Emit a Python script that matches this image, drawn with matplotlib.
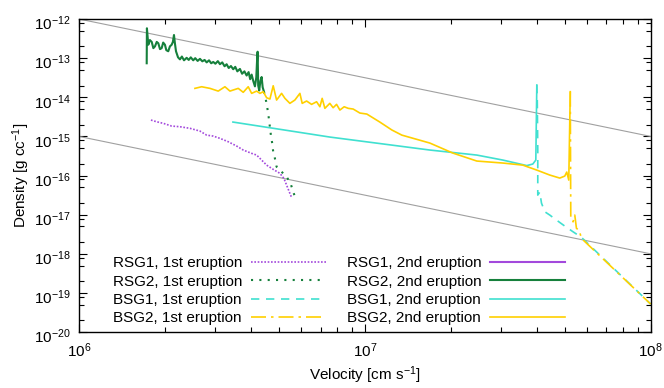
import matplotlib.pyplot as plt
import matplotlib.transforms as mtransforms
from matplotlib.ticker import LogLocator, NullFormatter

plt.rcParams['font.family'] = ['Liberation Sans', 'DejaVu Sans']
plt.rcParams['mathtext.fontset'] = 'custom'
plt.rcParams['mathtext.rm'] = 'Liberation Sans'
plt.rcParams['mathtext.it'] = 'Liberation Sans:italic'

# rho ~ v^-1.5 guide lines
guide_v = [1e6, 1e8]
guide_hi = [1e-12, 1e-15]
guide_lo = [1e-15, 1e-18]

# RSG1
rsg1_v1 = [1.785e6, 1.869e6, 1.971e6, 2.109e6, 2.255e6, 2.444e6, 2.649e6, 2.796e6,
           2.948e6, 3.112e6, 3.327e6, 3.559e6, 3.754e6, 4.017e6, 4.182e6, 4.353e6,
           4.532e6, 4.779e6, 5.044e6, 5.209e6, 5.323e6, 5.466e6, 5.54e6]
rsg1_d1 = [2.62e-15, 2.37e-15, 2.16e-15, 1.84e-15, 1.77e-15, 1.61e-15, 1.37e-15, 1.08e-15,
           1.02e-15, 8.93e-16, 7.31e-16, 5.68e-16, 4.49e-16, 3.69e-16, 3.34e-16, 2.49e-16,
           1.85e-16, 1.44e-16, 1.14e-16, 8.48e-17, 5.71e-17, 3.51e-17, 2.77e-17]
rsg1_v2 = []
rsg1_d2 = []

# RSG2
rsg2_v2 = [1.725e6, 1.728e6, 1.747e6, 1.77e6, 1.796e6, 1.82e6, 1.844e6, 1.87e6, 1.894e6,
           1.92e6, 1.946e6, 1.97e6, 1.998e6, 2.02e6, 2.052e6, 2.08e6, 2.109e6, 2.13e6,
           2.149e6, 2.165e6, 2.184e6, 2.22e6, 2.255e6, 2.29e6, 2.33e6, 2.38e6, 2.42e6,
           2.46e6, 2.509e6, 2.55e6, 2.6e6, 2.649e6, 2.7e6, 2.75e6, 2.796e6, 2.85e6,
           2.9e6, 2.948e6, 3.0e6, 3.06e6, 3.112e6, 3.17e6, 3.23e6, 3.284e6, 3.34e6,
           3.40e6, 3.463e6, 3.52e6, 3.58e6, 3.655e6, 3.72e6, 3.79e6, 3.858e6, 3.92e6,
           3.97e6, 4.017e6, 4.07e6, 4.125e6, 4.17e6, 4.2e6, 4.215e6, 4.235e6, 4.27e6,
           4.31e6, 4.353e6, 4.39e6, 4.435e6]
rsg2_d2 = [7.4e-14, 5.8e-13, 2.2e-13, 2.9e-13, 2.6e-13, 1.8e-13, 2.0e-13, 2.6e-13, 2.4e-13,
           1.7e-13, 1.8e-13, 2.5e-13, 2.2e-13, 1.6e-13, 1.5e-13, 2.0e-13, 2.2e-13, 2.6e-13,
           3.9e-13, 2.4e-13, 1.5e-13, 1.05e-13, 9.3e-14, 1.1e-13, 8.8e-14, 1.02e-13, 9.0e-14,
           1.05e-13, 8.8e-14, 1.0e-13, 8.5e-14, 9.6e-14, 8.3e-14, 9.0e-14, 7.8e-14, 8.8e-14,
           7.4e-14, 8.0e-14, 7.2e-14, 8.4e-14, 7.0e-14, 7.8e-14, 6.2e-14, 7.0e-14, 5.6e-14,
           6.3e-14, 5.2e-14, 6.0e-14, 4.6e-14, 5.3e-14, 4.0e-14, 4.6e-14, 3.6e-14, 4.4e-14,
           2.9e-14, 3.8e-14, 2.6e-14, 1.9e-14, 3.2e-14, 1.0e-13, 1.46e-13, 2.0e-14, 1.5e-14,
           2.6e-14, 3.3e-14, 1.8e-14, 1.4e-14]
rsg2_v1 = [4.435e6, 4.532e6, 4.598e6, 4.691e6, 4.741e6, 4.779e6, 4.845e6, 4.911e6,
           5.113e6, 5.323e6, 5.497e6, 5.614e6, 5.723e6]
rsg2_d1 = [1.39e-14, 7.0e-15, 3.52e-15, 1.08e-15, 6.65e-16, 4.06e-16, 2.75e-16, 1.68e-16,
           1.25e-16, 9.3e-17, 6.3e-17, 3.85e-17, 2.61e-17]

# BSG1
bsg1_v2 = [3.455e6, 5.044e6, 7.54e6, 1.128e7, 1.688e7, 2.464e7, 3.038e7, 3.685e7,
           3.868e7, 3.963e7, 3.995e7]
bsg1_d2 = [2.33e-15, 1.52e-15, 9.64e-16, 6.58e-16, 4.49e-16, 3.34e-16, 2.49e-16, 1.8e-16,
           1.97e-16, 2.49e-16, 2.06e-14]
bsg1_v1 = [3.995e7, 4.01e7, 4.026e7, 4.026e7, 4.092e7, 4.148e7, 4.26e7, 4.436e7, 4.681e7,
           5.004e7, 5.35e7, 5.725e7, 1e8]
bsg1_d1 = [2.06e-14, 8.5e-15, 4.49e-16, 3.17e-17, 3.79e-17, 1.98e-17, 1.19e-17, 9.78e-18,
           7.29e-18, 5.12e-18, 3.66e-18, 2.63e-18, 5.2e-20]

# BSG2
bsg2_v2 = [2.544e6, 2.685e6, 2.871e6, 3.069e6, 3.239e6, 3.373e6, 3.606e6, 3.754e6, 3.908e6,
           4.017e6, 4.182e6, 4.294e6, 4.41e6, 4.532e6, 4.654e6, 4.779e6, 4.911e6, 5.113e6,
           5.252e6, 5.466e6, 5.69e6, 5.925e6, 6.036e6, 6.254e6, 6.51e6, 6.778e6, 6.961e6,
           7.09e6, 7.246e6, 7.54e6, 7.744e6, 7.962e6, 8.177e6, 8.465e6, 8.744e6, 9.101e6,
           9.605e6, 1.016e7, 1.128e7, 1.243e7, 1.347e7, 1.688e7, 2.031e7, 2.464e7, 3.038e7,
           3.568e7, 3.995e7, 4.436e7, 4.807e7, 5.004e7, 5.085e7, 5.168e7, 5.231e7]
bsg2_d2 = [1.69e-14, 1.86e-14, 1.69e-14, 1.44e-14, 1.86e-14, 1.44e-14, 1.69e-14, 1.34e-14,
           1.86e-14, 1.26e-14, 1.44e-14, 1.26e-14, 1.39e-14, 9.74e-15, 9.02e-15, 1.97e-14,
           8.5e-15, 1.26e-14, 9.4e-15, 7.0e-15, 8.5e-15, 1.26e-14, 7.0e-15, 8.02e-15, 6.6e-15,
           7.69e-15, 5.73e-15, 9.4e-15, 5.22e-15, 7.0e-15, 5.41e-15, 6.6e-15, 4.72e-15,
           5.73e-15, 5.22e-15, 5.01e-15, 3.96e-15, 3.73e-15, 2.33e-15, 1.46e-15, 1.08e-15,
           6.77e-16, 3.76e-16, 2.35e-16, 2.09e-16, 1.85e-16, 1.38e-16, 1.03e-16, 8.63e-17,
           9.71e-17, 1.23e-16, 7.67e-17, 1.39e-14]
bsg2_v1 = [5.231e7, 5.252e7, 5.35e7, 5.424e7, 5.498e7, 5.615e7, 5.725e7, 1e8]
bsg2_d1 = [1.39e-14, 8.85e-18, 6.59e-18, 9.78e-18, 4.47e-18, 4.05e-18, 2.48e-18, 5.2e-20]

purple = '#a349dc'
green = '#16803c'
cyan = '#40e0d0'
gold = '#ffd000'

fig = plt.figure(figsize=(6.64, 3.88), dpi=100)
ax = fig.add_axes([0.119, 0.144, 0.861, 0.807])

ax.plot(guide_v, guide_hi, color='#a0a0a0', lw=0.8)
ax.plot(guide_v, guide_lo, color='#a0a0a0', lw=0.8)

l1, = ax.plot(rsg1_v1, rsg1_d1, color=purple, lw=1.2, dashes=(1, 1),
              label='RSG1, 1st eruption')
l2, = ax.plot(rsg2_v1, rsg2_d1, color=green, lw=1.5, dashes=(1, 3),
              label='RSG2, 1st eruption')
l3, = ax.plot(bsg1_v1, bsg1_d1, color=cyan, lw=1.2, dashes=(5, 4),
              label='BSG1, 1st eruption')
l4, = ax.plot(bsg2_v1, bsg2_d1, color=gold, lw=1.2, dashes=(9, 3, 1.5, 3),
              label='BSG2, 1st eruption')
l5, = ax.plot(rsg1_v2, rsg1_d2, color=purple, lw=1.5, label='RSG1, 2nd eruption')
l6, = ax.plot(rsg2_v2, rsg2_d2, color=green, lw=1.5, label='RSG2, 2nd eruption')
l7, = ax.plot(bsg1_v2, bsg1_d2, color=cyan, lw=1.2, label='BSG1, 2nd eruption')
l8, = ax.plot(bsg2_v2, bsg2_d2, color=gold, lw=1.2, label='BSG2, 2nd eruption')

ax.set_xscale('log')
ax.set_yscale('log')
ax.set_xlim(1e6, 1e8)
ax.set_ylim(1e-20, 1e-12)
ax.yaxis.set_major_locator(LogLocator(base=10, numticks=20))
ax.yaxis.set_minor_locator(LogLocator(base=10, subs=(2, 5, 8), numticks=20))
ax.yaxis.set_minor_formatter(NullFormatter())
ax.xaxis.set_minor_formatter(NullFormatter())
ax.tick_params(which='both', direction='in', top=True, right=True, labelsize=11)
ax.tick_params(which='major', length=6, width=0.8)
ax.tick_params(which='minor', length=3.5, width=0.8)
ax.tick_params(axis='x', pad=7)
ax.tick_params(axis='y', pad=6)
for s in ax.spines.values():
    s.set_linewidth(1.0)

# push the density labels down a little so the exponents sit on the tick
shift = mtransforms.ScaledTranslation(0, -2.5 / 72, fig.dpi_scale_trans)
for t in ax.yaxis.get_major_ticks():
    t.label1.set_transform(t.label1.get_transform() + shift)

ax.set_xlabel('Velocity [cm s$^{-1}$]', fontsize=11, labelpad=3)
ax.set_ylabel('Density [g cc$^{-1}$]', fontsize=11, labelpad=1)

ax.legend(handles=[l1, l2, l3, l4, l5, l6, l7, l8], ncol=2, frameon=False,
          markerfirst=False, fontsize=11, handlelength=4.9, handletextpad=0.6,
          columnspacing=1.35, labelspacing=0.28, borderpad=0.2,
          loc='lower left', bbox_to_anchor=(0.04, -0.012))

fig.savefig('out.png', dpi=100)
